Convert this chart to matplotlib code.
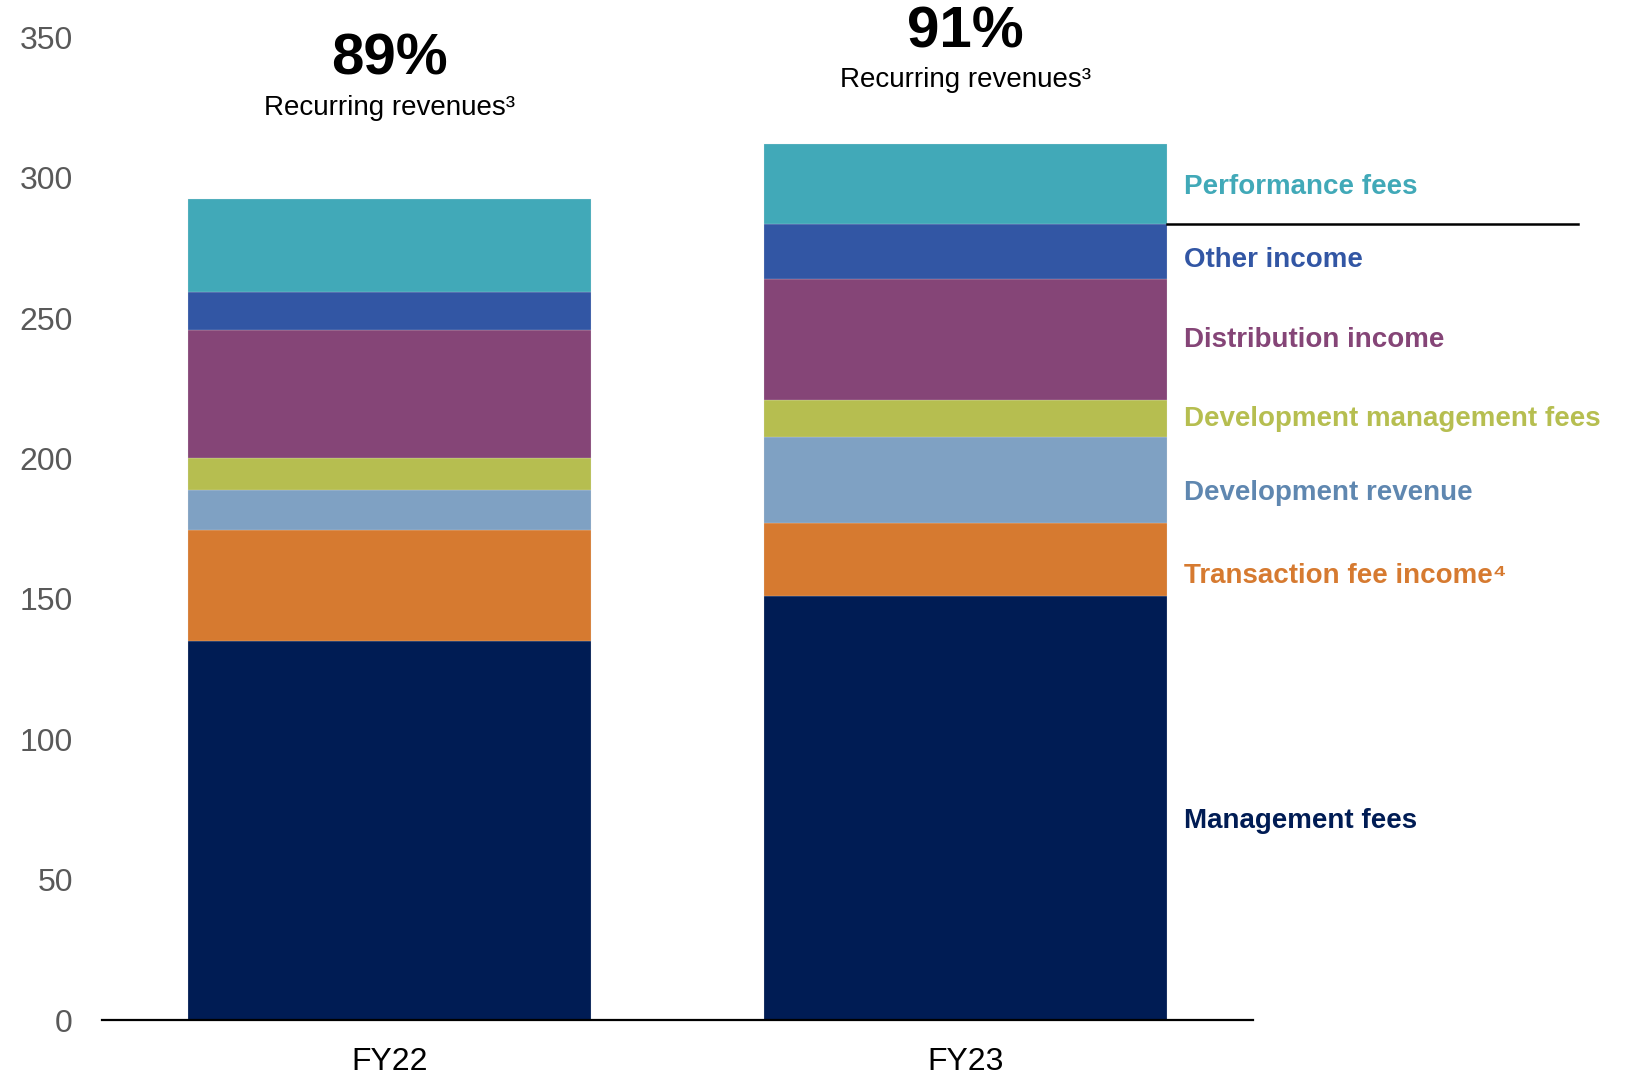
import matplotlib
matplotlib.use("Agg")
import matplotlib.pyplot as plt
import numpy as np

plt.rcParams['font.family'] = ['Liberation Sans', 'DejaVu Sans']

years = ["FY22", "FY23"]
segments = [
    "Management fees",
    "Transaction fee income⁴",
    "Development revenue",
    "Development management fees",
    "Distribution income",
    "Other income",
    "Performance fees",
]
values = {
    "Management fees":              [135.2, 150.9],
    "Transaction fee income⁴":      [39.4, 26.2],
    "Development revenue":          [14.3, 30.6],
    "Development management fees":  [11.4, 13.0],
    "Distribution income":          [45.6, 43.4],
    "Other income":                 [13.5, 19.3],
    "Performance fees":             [33.2, 28.5],
}
recurring_share = ["89%", "91%"]
recurring_caption = "Recurring revenues³"
yticks = [0, 50, 100, 150, 200, 250, 300, 350]

bar_colors = {
    "Management fees":              "#001C54",
    "Transaction fee income⁴":      "#D67A30",
    "Development revenue":          "#7FA1C3",
    "Development management fees":  "#B6BE50",
    "Distribution income":          "#854577",
    "Other income":                 "#3256A4",
    "Performance fees":             "#41A9B8",
}
label_colors = dict(bar_colors)
label_colors["Development revenue"] = "#5F87B0"

fig = plt.figure(figsize=(16.26, 10.75), dpi=100)
ax = fig.add_axes([0.0627, 0.051, 0.708, 0.9142])

x = np.arange(len(years))
width = 0.70
bottom = np.zeros(len(years))
bounds = {}
for seg in segments:
    v = np.array(values[seg])
    ax.bar(x, v, width, bottom=bottom, color=bar_colors[seg],
           edgecolor="#e8e8e8", linewidth=0.15, zorder=2)
    bounds[seg] = (bottom.copy(), bottom + v)
    bottom = bottom + v

# Segment names beside the FY23 bar, centred on each segment
label_nudge = {
    "Performance fees": -1,
    "Management fees": -4.6,
    "Transaction fee income⁴": -5.7,
    "Development revenue": -4.5,
    "Other income": -3.2,
}
lx = x[-1] + width / 2 + 0.03
for seg in segments:
    lo, hi = bounds[seg]
    mid = (lo[-1] + hi[-1]) / 2 + label_nudge.get(seg, 0)
    ax.text(lx, mid, seg, color=label_colors[seg], fontsize=20,
            fontweight="bold", va="center", ha="left", clip_on=False)

# Divider separating performance fees from recurring revenue streams
split = bounds["Performance fees"][0][-1]
ax.plot([x[-1] + width / 2, 2.065], [split, split], color="black",
        lw=1.8, clip_on=False, zorder=3)

# Recurring revenue share above each bar
header_y = [(342.2, 325.0), (351.9, 334.7)]
for xi, share, (ys, yc) in zip(x, recurring_share, header_y):
    ax.text(xi, ys, share, fontsize=42, fontweight="bold", ha="center",
            va="center", clip_on=False)
    ax.text(xi, yc, recurring_caption, fontsize=20, ha="center",
            va="center", clip_on=False)

ax.set_xlim(-0.5, 1.5)
ax.set_ylim(0, 350)
ax.set_yticks(yticks)
ax.set_xticks(x)
ax.set_xticklabels(years)
ax.tick_params(axis="y", length=0, pad=21, labelsize=23, labelcolor="#595959")
ax.tick_params(axis="x", length=0, pad=19, labelsize=23, labelcolor="black")
for side in ["top", "right", "left"]:
    ax.spines[side].set_visible(False)
ax.spines["bottom"].set_linewidth(1.6)
ax.spines["bottom"].set_color("black")
ax.spines["bottom"].set_zorder(4)

fig.savefig("out.png", dpi=100)
